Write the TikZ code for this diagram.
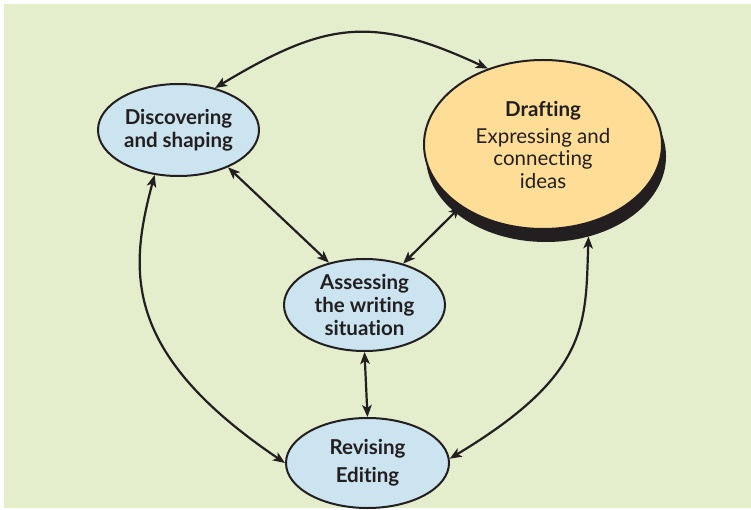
\documentclass[tikz,border=0pt]{standalone}
\usepackage{fontspec}
\setmainfont{Lato}[Ligatures=NoCommon]
\usetikzlibrary{arrows.meta,shapes.geometric}

\definecolor{panelgreen}{RGB}{228,237,204}
\definecolor{stagefill}{RGB}{203,228,240}
\definecolor{draftfill}{RGB}{254,222,150}
\definecolor{ink}{RGB}{35,31,32}

\tikzset{
  stage/.style={ellipse, draw=ink, line width=2pt, fill=stagefill, inner sep=0pt,
    align=center, text=ink, font=\fontsize{20.5}{23}\selectfont\bfseries},
  link/.style={draw=ink, line width=2.2pt,
    {Stealth[length=12pt,width=9.5pt,inset=3pt]}-{Stealth[length=12pt,width=9.5pt,inset=3pt]}}
}

\begin{document}
\begin{tikzpicture}[x=1pt,y=1pt]
  \useasboundingbox (0,0) rectangle (751,509);
  \fill[panelgreen] (4,1) rectangle (751,505);

  % stage ellipses
  \node[stage, minimum width=161pt, minimum height=92pt] (disc) at (178.5,379)
    {Discovering\\and shaping};
  \node[ellipse, draw=ink, fill=ink, line width=2pt, minimum width=238pt,
    minimum height=169pt] (draftshade) at (546,352.5) {};
  \node[ellipse, draw=ink, line width=2pt, fill=draftfill, minimum width=238pt,
    minimum height=169pt, inner sep=0pt, align=center, text=ink,
    font=\fontsize{20.5}{22.5}\selectfont] (draft) at (543,364.5)
    {\textbf{Drafting}\\[4.5pt]Expressing and\\connecting\\ideas};
  \node[stage, minimum width=161pt, minimum height=92pt] (assess) at (364.5,204)
    {Assessing\\the writing\\situation};
  \node[stage, minimum width=163pt, minimum height=90pt,
    font=\fontsize{20.5}{28}\selectfont\bfseries] (rev) at (367.5,46)
    {Revising\\Editing};

  % two-way links between stages
  \draw[link] (disc.49) to[out=31, in=155, looseness=1.2] (draft.126);
  \draw[link] (disc.-37) -- (assess.130);
  \draw[link] (draft.217) -- (assess.47);
  \draw[link] (assess.270) -- (rev.90);
  \draw[link] (disc.242) to[out=255, in=146, out looseness=0.8, in looseness=1.6] (rev.180);
  \draw[link] (draftshade.298) to[out=268, in=31, out looseness=0.85, in looseness=1.6] (rev.3);
\end{tikzpicture}
\end{document}
